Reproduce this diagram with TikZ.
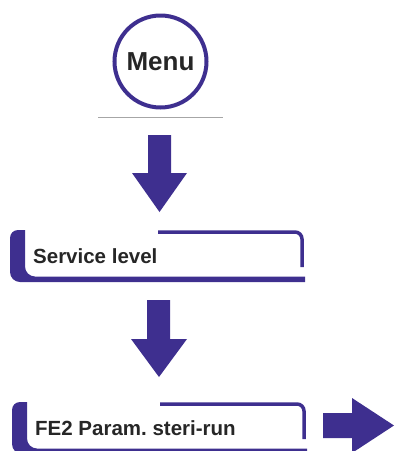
\documentclass[tikz,border=0pt]{standalone}
\usepackage{fontspec}
\setmainfont{Liberation Sans}
\frenchspacing
\definecolor{menupurple}{RGB}{62,47,143}
\begin{document}
\begin{tikzpicture}[x=1pt, y=-1pt,
  bararrow/.style={fill=menupurple},
  boxbar/.style={fill=menupurple},
  boxline/.style={draw=menupurple, line width=3.5pt},
  boxtext/.style={anchor=base west, inner sep=0, text=black!85, font=\fontsize{20.5}{24}\selectfont\bfseries}]
\useasboundingbox (0,0) rectangle (395,451);
\clip (0,0) rectangle (395,451);

\node[draw=menupurple, line width=4pt, circle, minimum size=92pt, inner sep=0] (menu) at (160.5,61.5) {};
\node[text=black!85, font=\fontsize{26}{30}\selectfont\bfseries] (menutext) at (menu) {Menu};
\draw[gray!70, line width=1pt] (98,117) -- (223,117);

\fill[bararrow] (148,135) -- (171,135) -- (171,173) -- (187,173) -- (159.5,212) -- (132,173) -- (148,173) -- cycle;

\fill[boxbar] (25,230) -- (18,230) arc[start angle=90, end angle=180, radius=8pt] -- (10,272) arc[start angle=180, end angle=270, radius=10pt] -- (305,282) -- (305,276.5) -- (35,276.5) arc[start angle=270, end angle=180, radius=10pt] -- cycle;
\draw[boxline] (158,232) -- (295,232) arc[start angle=90, end angle=0, radius=7pt] -- (302,267);
\node[boxtext] (service) at (33,263) {Service level};

\fill[bararrow] (147,300) -- (170,300) -- (170,339) -- (187,339) -- (159,377) -- (131,339) -- (147,339) -- cycle;

\fill[boxbar] (25 + 2,230 + 172) -- (18 + 2,230 + 172) arc[start angle=90, end angle=180, radius=8pt] -- (10 + 2,272 + 172) arc[start angle=180, end angle=270, radius=10pt] -- (305 + 2,282 + 172) -- (305 + 2,276.5 + 172) -- (35 + 2,276.5 + 172) arc[start angle=270, end angle=180, radius=10pt] -- cycle;
\draw[boxline] (158 + 2,232 + 172) -- (295 + 2,232 + 172) arc[start angle=90, end angle=0, radius=7pt] -- (302 + 2,267 + 172);
\node[boxtext] (fe2) at (35,435) {FE2 Param. steri-run};

\fill[bararrow] (323,413) -- (352,413) -- (352,398) -- (394,425.5) -- (352,453) -- (352,438) -- (323,438) -- cycle;

\end{tikzpicture}
\end{document}
